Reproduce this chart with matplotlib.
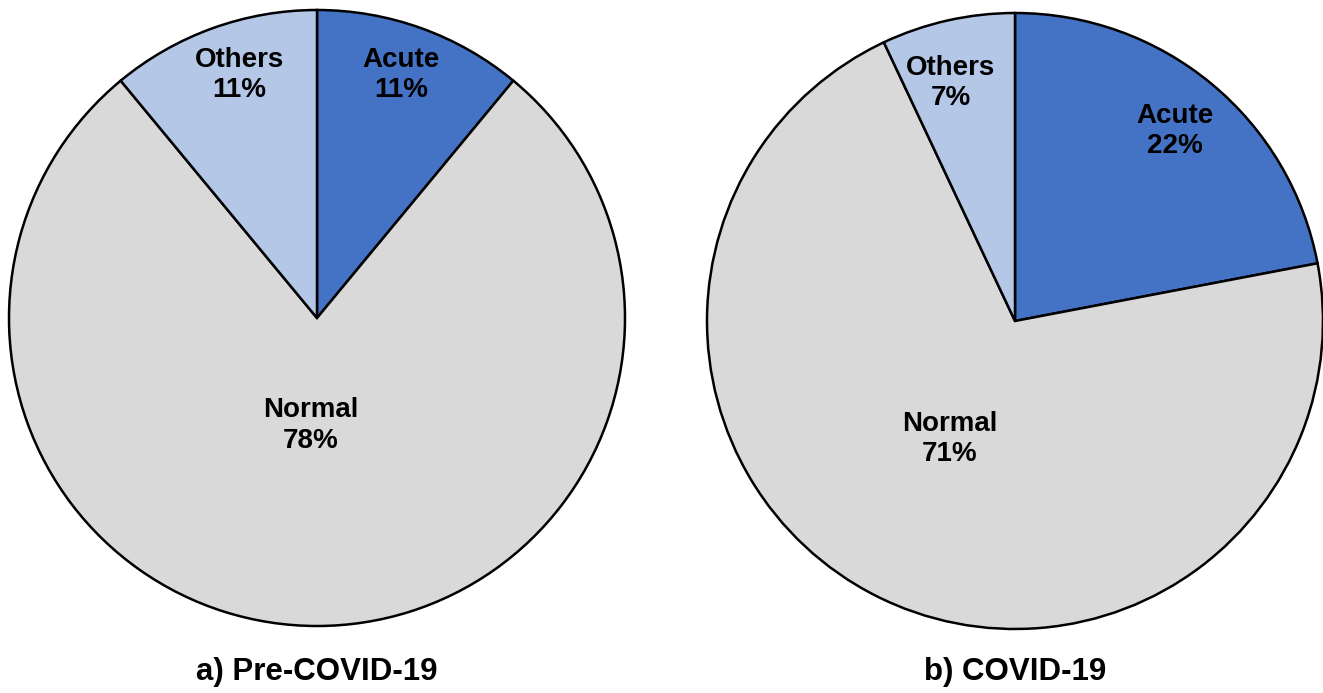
import numpy as np
import matplotlib
matplotlib.use("Agg")
import matplotlib.pyplot as plt

plt.rcParams['font.family'] = ['Liberation Sans', 'DejaVu Sans']

categories = ["Acute", "Normal", "Others"]
pre_covid = [11, 78, 11]
covid = [22, 71, 7]
titles = ["a) Pre-COVID-19", "b) COVID-19"]
colors = ["#4472C4", "#D9D9D9", "#B4C7E7"]

W, H = 1323, 693
fig = plt.figure(figsize=(W / 100, H / 100), dpi=100)

# label distance from centre (fraction of radius) and angular nudge (degrees) per slice
label_r = [[0.834, 0.35, 0.828], [0.806, 0.438, 0.80]]
label_dang = [[0.7, -3.2, -2.1], [-0.5, -2.0, 2.6]]


def draw_pie(cx, cy, r, values, title, lr, lda):
    ax = fig.add_axes([(cx - r) / W, (H - cy - r) / H, 2 * r / W, 2 * r / H])
    wedges, _ = ax.pie(values, colors=colors, startangle=90, counterclock=False,
                       radius=1.0,
                       wedgeprops=dict(edgecolor="black", linewidth=1.8))
    for w in wedges:
        w.set_clip_on(False)
    total = sum(values)
    for w, name, v, rr, da in zip(wedges, categories, values, lr, lda):
        mid = np.deg2rad((w.theta1 + w.theta2) / 2 + da)
        x, y = rr * np.cos(mid), rr * np.sin(mid)
        ax.text(x, y, f"{name}\n{round(100 * v / total)}%", ha="center", va="center",
                fontsize=20, fontweight="bold", linespacing=1.22)
    ax.set_xlim(-1, 1)
    ax.set_ylim(-1, 1)
    ax.set_aspect("equal")
    ax.axis("off")
    fig.text(cx / W, 1 - 672 / H, title, ha="center", va="center",
             fontsize=22.5, fontweight="bold")


draw_pie(317, 318, 308, pre_covid, titles[0], label_r[0], label_dang[0])
draw_pie(1015, 321, 308, covid, titles[1], label_r[1], label_dang[1])

fig.savefig("out.png", dpi=100, facecolor="white")
